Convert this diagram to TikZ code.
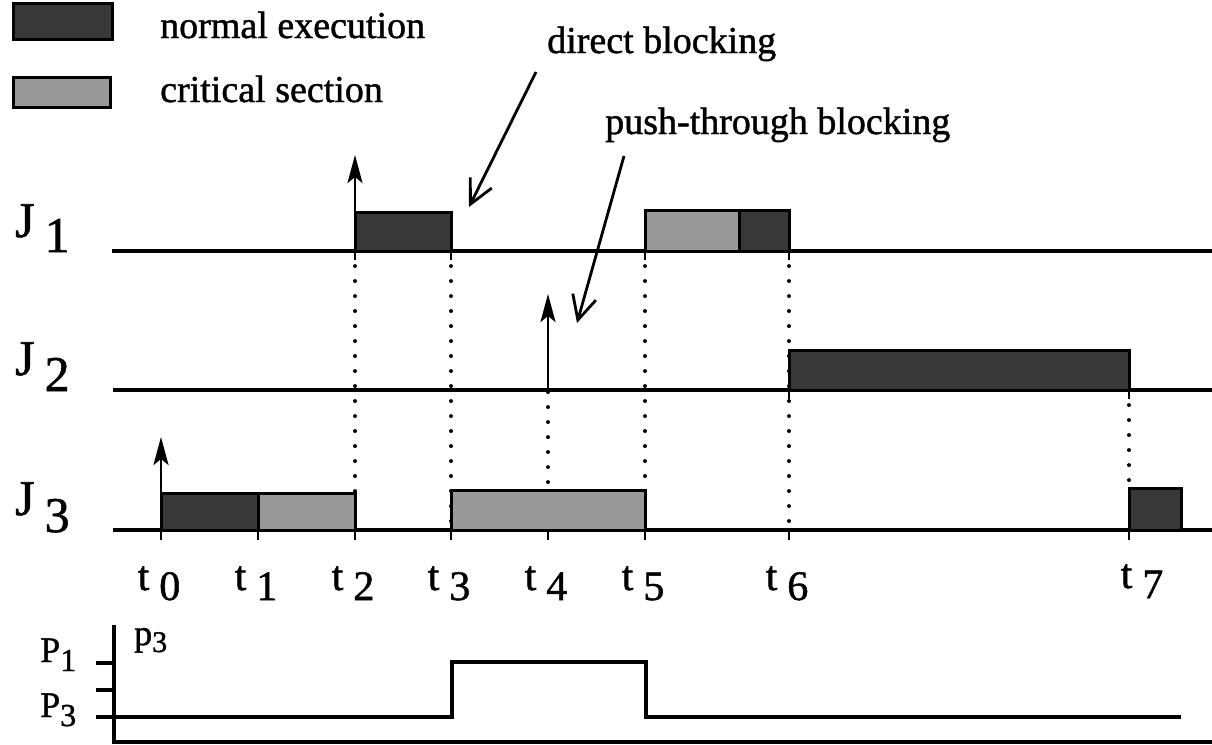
\documentclass[tikz,border=0pt]{standalone}
\usepackage{fontspec}
\setmainfont[FakeBold=1.2]{Liberation Serif}
\usetikzlibrary{arrows.meta}
\begin{document}
\begin{tikzpicture}[x=1pt,y=-1pt,
  base/.style={line width=3.4pt},
  normalbox/.style={fill=black!78, draw=black, line width=3pt},
  critbox/.style={fill=black!40, draw=black, line width=3pt},
  dotline/.style={line width=3.8pt, dash pattern=on 0.1pt off 14.9pt, line cap=round},
  release/.style={line width=2.6pt, -{Stealth[length=28pt,width=15pt,inset=6pt]}},
  note/.style={line width=2.8pt, -{Straight Barb[length=24pt,width=24pt,line width=2.8pt]}},
  txt/.style={font=\fontsize{38}{40}\selectfont, inner sep=0pt},
  jlab/.style={font=\fontsize{50}{52}\selectfont, inner sep=0pt},
  tlab/.style={font=\fontsize{42}{44}\selectfont, inner sep=0pt},
  plab/.style={font=\fontsize{36}{38}\selectfont, inner sep=0pt}]
\useasboundingbox (0,0) rectangle (1212,744);

% legend
\draw[normalbox] (13,3) rectangle (112,39);
\draw[critbox] (13,77) rectangle (110,107);
\node[txt, anchor=base west] (lnorm) at (160,38) {normal execution};
\node[txt, anchor=base west] (lcrit) at (160,102) {critical section};

% annotations
\node[txt, anchor=base west] (direct) at (547,53) {direct blocking};
\node[txt, anchor=base west] (push) at (605,134) {push-through blocking};
\coordinate (ds) at (536,72);
\coordinate (de) at (469,207);
\coordinate (ps) at (624,156);
\coordinate (pe) at (577,323);
\draw[note] (ds) -- (de);
\draw[note] (ps) -- (pe);

% job labels
\node[jlab, anchor=base west] (J1) at (15,237) {J\hspace{10pt}\raisebox{-15pt}{1}};
\node[jlab, anchor=base west] (J2) at (15,375) {J\hspace{10pt}\raisebox{-16pt}{2}};
\node[jlab, anchor=base west] (J3) at (15,515) {J\hspace{10pt}\raisebox{-17pt}{3}};

% baselines
\coordinate (b1s) at (112,251); \coordinate (b1e) at (1212,251);
\coordinate (b2s) at (113,390); \coordinate (b2e) at (1212,390);
\coordinate (b3s) at (113,530); \coordinate (b3e) at (1212,530);
\draw[base] (b1s) -- (b1e);
\draw[base] (b2s) -- (b2e);
\draw[base] (b3s) -- (b3e);

% dotted lines
\draw[dotline] (355,251) -- (355,530);
\draw[dotline] (451,251) -- (451,530);
\draw[dotline] (548,392) -- (548,530);
\draw[dotline] (645,251) -- (645,530);
\draw[dotline] (789,251) -- (789,530);
\draw[dotline] (1129,390) -- (1129,488);

% ticks
\foreach \x in {161,258,355,451,548,645,789,1129} \draw[line width=2.8pt] (\x,530) -- (\x,540);
\foreach \x in {355,451,645,789} \draw[line width=2.8pt] (\x,251) -- (\x,260);
\foreach \x in {789,1129} \draw[line width=2.8pt] (\x,390) -- (\x,399);

% boxes J1
\draw[normalbox] (355,212) rectangle (451,251);
\draw[critbox] (645,210) rectangle (739,251);
\draw[normalbox] (739,210) rectangle (789,251);
% J2
\draw[normalbox] (789,350) rectangle (1129,390);
% J3
\draw[normalbox] (161,493) rectangle (258,530);
\draw[critbox] (258,493) rectangle (355,530);
\draw[critbox] (451,490) rectangle (645,530);
\draw[normalbox] (1129,488) rectangle (1181,530);

% release arrows
\coordinate (r0s) at (161,493); \coordinate (r0e) at (161,437);
\coordinate (r2s) at (355,212); \coordinate (r2e) at (355,155);
\coordinate (r4s) at (548,390); \coordinate (r4e) at (548,294);
\draw[release] (r0s) -- (r0e);
\draw[release] (r2s) -- (r2e);
\draw[release] (r4s) -- (r4e);

% time labels
\node[tlab, anchor=base] (t0) at (159,590) {t\hspace{10pt}\raisebox{-10pt}{0}};
\node[tlab, anchor=base] (t1) at (256,590) {t\hspace{10pt}\raisebox{-10pt}{1}};
\node[tlab, anchor=base] (t2) at (353,590) {t\hspace{10pt}\raisebox{-10pt}{2}};
\node[tlab, anchor=base] (t3) at (449,590) {t\hspace{10pt}\raisebox{-10pt}{3}};
\node[tlab, anchor=base] (t4) at (546,590) {t\hspace{10pt}\raisebox{-10pt}{4}};
\node[tlab, anchor=base] (t5) at (643,590) {t\hspace{10pt}\raisebox{-10pt}{5}};
\node[tlab, anchor=base] (t6) at (787,590) {t\hspace{10pt}\raisebox{-10pt}{6}};
\node[tlab, anchor=base] (t7) at (1142,588) {t\hspace{10pt}\raisebox{-10pt}{7}};

% priority diagram
\coordinate (ax0) at (114,625); \coordinate (ax1) at (114,744);
\draw[base] (ax0) -- (ax1);
\draw[base] (96,663) -- (114,663);
\draw[base] (96,690) -- (114,690);
\draw[base] (96,717) -- (114,717);
\draw[base] (114,717) -- (452,717) -- (452,662) -- (646,662) -- (646,717) -- (1181,717);
\draw[base] (114,742) -- (1212,742);
\node[plab, anchor=base west] (P1) at (40,662) {P\raisebox{-9pt}{\fontsize{32}{34}\selectfont 1}};
\node[plab, anchor=base west] (P3) at (40,717) {P\raisebox{-9pt}{\fontsize{32}{34}\selectfont 3}};
\node[plab, anchor=base west] (p3) at (134,645) {p\raisebox{-7pt}{\fontsize{30}{32}\selectfont 3}};
\end{tikzpicture}
\end{document}
